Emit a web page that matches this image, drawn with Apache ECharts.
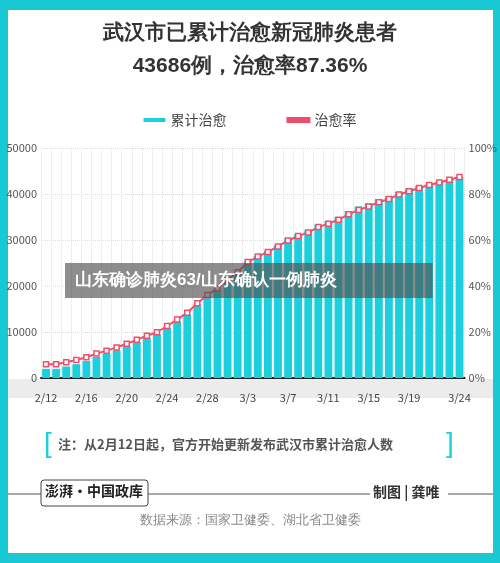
<!DOCTYPE html>
<html><head><meta charset="utf-8">
<script src="https://cdn.jsdelivr.net/npm/echarts@6/dist/echarts.min.js"></script>
<style>html,body{margin:0;padding:0;background:#18c9d4}#c{width:500px;height:563px}</style>
</head><body><div id="c"></div>
<script>
const dates = ['2/12','2/13','2/14','2/15','2/16','2/17','2/18','2/19','2/20','2/21','2/22','2/23','2/24','2/25','2/26','2/27','2/28','2/29','3/1','3/2','3/3','3/4','3/5','3/6','3/7','3/8','3/9','3/10','3/11','3/12','3/13','3/14','3/15','3/16','3/17','3/18','3/19','3/20','3/21','3/22','3/23','3/24'];
const cured = [2000,2000,2500,3000,3700,4600,5300,6000,6900,7800,8700,9500,10900,12300,13800,16000,17800,19300,21200,23000,25300,26600,27600,28900,30300,31300,32100,33300,34100,35000,36300,37300,38000,38900,39500,40500,41200,41800,42300,42700,43200,43686];
const rate = [6.0,6.0,6.9,7.8,9.0,10.6,11.9,13.3,14.9,16.6,18.4,19.9,22.6,25.4,28.4,32.5,36.1,39.0,42.7,46.0,50.4,52.8,54.8,57.2,59.8,61.7,63.3,65.6,67.1,68.8,71.2,73.0,74.6,76.4,77.8,79.8,81.2,82.6,83.9,85.0,86.2,87.36];
const shownLabels = ['2/12','2/16','2/20','2/24','2/28','3/3','3/7','3/11','3/15','3/19','3/24'];
const chart = echarts.init(document.getElementById('c'));
const txt = (x,y,t,size,color,weight) => ({type:'text',left:x,top:y,style:{text:t,fontSize:size,fill:color,fontWeight:weight||'normal',fontFamily:'Noto Sans CJK SC'}});
chart.setOption({
  backgroundColor:'#18c9d4',
  animation:false,
  textStyle:{fontFamily:'Noto Sans CJK SC'},
  legend:{top:108,left:'center',itemGap:60,itemWidth:22,itemHeight:4,icon:'rect',textStyle:{fontSize:14,color:'#444'},
    data:[{name:'累计治愈',itemStyle:{color:'#1ccfdc'}},{name:'治愈率',itemStyle:{color:'#ef4f6b'}}]},
  grid:{left:41,right:35,top:148,bottom:185},
  xAxis:{type:'category',data:dates,boundaryGap:true,
    axisLine:{lineStyle:{color:'#222',width:2}},axisTick:{show:false},
    axisLabel:{interval:0,color:'#444',fontSize:11,margin:14,formatter:v=>shownLabels.includes(v)?v:''},
    splitLine:{show:true,interval:0,lineStyle:{color:'#ddd',type:'dotted'}}},
  yAxis:[{type:'value',min:0,max:50000,interval:10000,axisLine:{show:false},axisTick:{show:false},
    axisLabel:{color:'#555',fontSize:11,margin:4,formatter:v=>String(v)},splitLine:{lineStyle:{color:'#ddd',type:'dotted'}}},
   {type:'value',min:0,max:100,interval:20,axisLine:{show:false},axisTick:{show:false},
    axisLabel:{color:'#555',fontSize:11,margin:4,formatter:'{value}%'},splitLine:{show:false}}],
  graphic:[
    {type:'rect',shape:{x:8,y:10,width:485,height:543},style:{fill:'#fff'},z:-10},
    {type:'rect',shape:{x:8,y:379,width:485,height:19},style:{fill:'#ececec'},z:-5},
    {type:'text',left:'center',top:23,style:{text:'武汉市已累计治愈新冠肺炎患者',fontSize:21,fill:'#333',fontWeight:'bold'}},
    {type:'text',left:'center',top:56,style:{text:'43686例，治愈率87.36%',fontSize:21,fill:'#333',fontWeight:'bold'}},
    {type:'text',left:65,top:263,z:100,style:{text:'山东确诊肺炎63/山东确认一例肺炎',fontSize:17,fill:'#fff',fontWeight:'bold',
      backgroundColor:'rgba(80,80,80,0.65)',padding:[9,96,9,10]}},
    {type:'text',left:44,top:430,style:{text:'[',fontSize:28,fill:'#1ccfdc'}},
    txt(58,438,'注：从2月12日起，官方开始更新发布武汉市累计治愈人数',13,'#555','bold'),
    {type:'text',left:446,top:430,style:{text:']',fontSize:28,fill:'#1ccfdc'}},
    {type:'line',shape:{x1:8,y1:494,x2:493,y2:494},style:{stroke:'#555',lineWidth:1}},
    {type:'rect',shape:{x:41,y:480,width:107,height:26,r:3},style:{fill:'#fff',stroke:'#444',lineWidth:1}},
    txt(45,484,'澎湃·中国政库',14,'#222','bold'),
    {type:'rect',shape:{x:370,y:484,width:78,height:20},style:{fill:'#fff'}},
    txt(373,485,'制图 | 龚唯',14,'#333','bold'),
    {type:'text',left:'center',top:514,style:{text:'数据来源：国家卫健委、湖北省卫健委',fontSize:13,fill:'#888'}}
  ],
  series:[
    {name:'累计治愈',type:'bar',data:cured,barWidth:'78%',itemStyle:{color:'#1ccfdc'}},
    {name:'治愈率',type:'line',yAxisIndex:1,data:rate,symbol:'rect',symbolSize:5,
      lineStyle:{color:'#ef4f6b',width:2},itemStyle:{color:'#fff',borderColor:'#ef4f6b',borderWidth:1.5}}
  ]
});
</script></body></html>
